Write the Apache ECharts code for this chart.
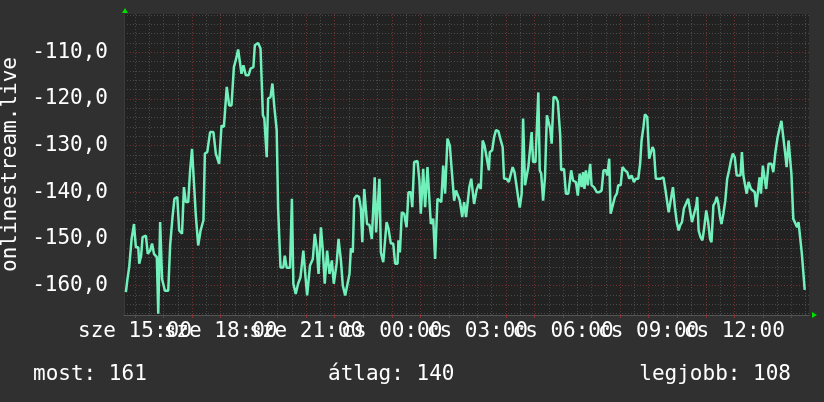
<!DOCTYPE html>
<html>
<head>
<meta charset="utf-8">
<script src="https://cdn.jsdelivr.net/npm/echarts@6/dist/echarts.min.js"></script>
<style>
  html, body { margin: 0; padding: 0; background: #303030; }
  #chart { width: 824px; height: 402px; }
</style>
</head>
<body>
<div id="chart"></div>
<script>
// ablak: szerda 14:37-tol 24 oran at (perc, szerda 00:00-tol szamolva)
const startMin = 877;
const spanMin = 1440;
const dayNames = ['sze', 'cs'];

// mintak: perc az ablak elejetol, es a mert ertek
const mins = [4,7,11,16,21,25,30,32,36,39,46,50,55,59,63,69,72,76,80,86,93,97,102,106,112,116,122,126,130,135,139,143,147,151,156,161,167,170,175,181,188,193,200,205,210,216,221,226,231,235,240,244,247,251,256,262,266,272,275,282,287,292,295,300,303,308,312,316,321,324,329,335,338,342,349,353,356,361,366,371,377,381,385,391,397,401,405,409,414,418,422,427,432,437,441,447,451,456,460,465,469,474,477,481,484,489,494,498,501,505,508,511,516,521,524,527,530,533,537,540,545,549,552,556,561,566,570,575,577,580,584,589,594,598,603,606,610,617,621,624,629,633,638,642,645,650,654,659,663,667,671,675,680,685,689,694,698,702,706,711,715,719,723,726,730,733,736,741,746,750,754,758,762,767,769,774,778,782,787,792,796,799,804,809,813,817,821,825,829,832,836,839,843,846,850,853,857,860,865,867,871,874,877,881,885,889,893,896,899,903,908,912,917,919,925,929,934,938,940,944,950,954,958,962,965,968,971,975,980,983,988,994,999,1004,1008,1013,1016,1020,1023,1027,1032,1036,1039,1044,1048,1053,1058,1062,1067,1072,1076,1081,1085,1088,1092,1095,1100,1104,1107,1111,1114,1118,1123,1128,1134,1138,1142,1145,1149,1154,1158,1162,1166,1169,1173,1177,1181,1186,1190,1194,1198,1203,1205,1208,1212,1216,1219,1224,1228,1232,1235,1239,1243,1246,1249,1253,1256,1260,1264,1268,1272,1276,1280,1284,1288,1292,1296,1299,1302,1306,1309,1313,1318,1322,1326,1329,1333,1336,1339,1343,1347,1350,1353,1355,1361,1365,1369,1374,1378,1382,1386,1390,1393,1397,1400,1403,1407,1411,1415,1418,1421,1425,1428,1431];

const vals = [
  -161.4,-158.8,-156,-150,-146.8,-151.8,-151.8,-155.3,-153.6,-149.6,
  -149.3,-153.2,-152.5,-151,-153.2,-153.9,-166,-146.4,-158.6,-161.1,
  -161.1,-151.4,-145.3,-141.4,-141,-148.2,-148.9,-138.9,-142.1,-142.1,
  -135.3,-130.7,-130.7,-145,-151.4,-148.2,-146,-131.7,-131.4,-127.1,
  -127.1,-131.7,-133.9,-125.7,-126,-117.4,-121.4,-121.4,-113.2,-111.7,
  -109.4,-109.4,-114.6,-112.8,-114.9,-114.9,-113.5,-113.2,-108.5,-108,
  -109.2,-123.5,-124.2,-132.5,-119.9,-119.6,-116.7,-121.7,-126.7,-143.5,
  -156.1,-156.1,-153.6,-156.2,-156.2,-141.4,-159.6,-161.8,-159.6,-158.2,
  -152.5,-157.5,-162.1,-155.7,-154.3,-148.9,-151.8,-157.5,-147.5,-152.5,
  -159.6,-152.5,-157.5,-154.6,-159.6,-155.3,-150,-154.6,-160,-162.1,
  -162.1,-157.5,-152,-152.9,-141.4,-140.7,-141,-143.5,-150.7,-139.3,
  -139.3,-146.8,-147,-150,-150,-136.8,-148.6,-148.6,-137.1,-152.9,
  -155,-155,-146.4,-147.8,-151,-151,-155.3,-155.3,-150.3,-152.9,
  -144.3,-144.6,-147.5,-140,-140,-143.2,-133.5,-133.3,-137.5,-144.6,
  -135,-143.2,-134.6,-134.6,-146.8,-145.7,-154.3,-141.4,-141.8,-142.1,
  -134.3,-140.3,-128.5,-130,-135.3,-141.8,-139.6,-139.6,-141.8,-145.3,
  -142.1,-145.3,-145.3,-138.9,-137.1,-137.1,-142.5,-139.6,-138.2,-139.3,
  -128.9,-130,-130,-135.3,-131.4,-131,-128.2,-126.7,-126.9,-128.9,
  -130.3,-137.1,-137.1,-137.8,-137.8,-134.6,-135.7,-138.5,-141.4,-143.3,
  -140.3,-124.2,-138.5,-138.5,-134.6,-134.6,-127.1,-133.5,-133.5,-133.9,
  -118.6,-135.3,-136,-141.8,-136.8,-123.5,-123.5,-126.4,-129.6,-119.6,
  -119.7,-120.6,-127.8,-135.3,-135,-140.3,-140.3,-140.3,-135.3,-137.5,
  -137.8,-140.7,-136,-138.9,-135.7,-139.3,-135.3,-138.5,-133.9,-138.5,
  -138.9,-140,-140,-139.6,-135.3,-135.3,-136.4,-132.8,-144.6,-144.3,
  -141,-140.3,-138.5,-138.5,-134.6,-135.3,-135.7,-137.1,-136.4,-137.8,
  -137.1,-137.1,-133.9,-128.9,-126,-123.3,-123.9,-132.8,-132.8,-130.3,
  -131,-137.1,-137.1,-137.1,-136.8,-139.3,-139.3,-144.3,-144.3,-138.9,
  -143.2,-146.4,-148.2,-147.1,-146.4,-143.5,-143.9,-141.4,-141.4,-146.4,
  -146,-142.8,-141,-148.2,-149.6,-150.3,-148.2,-143.9,-146.4,-150,
  -150.7,-142.8,-142.1,-141,-142.1,-145.3,-146.8,-144.6,-141.8,-137.1,
  -135.3,-133.2,-131.7,-132.5,-136.4,-136.4,-136.4,-131.4,-136.4,-136.8,
  -140.3,-137.8,-139.3,-139.3,-140,-143.2,-143.2,-136.8,-140.3,-134.3,
  -134.3,-139.3,-139.3,-133.9,-133.9,-135.7,-131.7,-128.2,-126.4,-124.7,
  -124.7,-131.7,-134.6,-128.9,-128.9,-136,-145.7,-146,-147.5,-146.4,
  -146.8,-153.2,-153.2,-160.9
];

// tengely feliratok (harom orankent, ket csoportban, hogy egyik se vesszen el)
const xLabelsA = [900, 1260, 1620, 1980];
const xLabelsB = [1080, 1440, 1800, 2160];
const yMajor = [-160, -150, -140, -130, -120, -110];
const yMinor = [-166,-164,-162,-158,-156,-154,-152,-148,-146,-144,-142,-138,-136,-134,-132,-128,-126,-124,-122,-118,-116,-114,-112,-108,-106,-104,-102];
const yMin = -166.3, yMax = -101.8;
const yTitle = 'onlinestream.live';
const stats = ['most: 161', 'átlag: 140', 'legjobb: 108'];

// racs: orankent fo vonal, felorankent mellek vonal
const hourTicks = [], halfTicks = [];
for (let m = 900; m < startMin + spanMin; m += 60) hourTicks.push(m);
for (let m = 930; m < startMin + spanMin; m += 60) halfTicks.push(m);

const font = '"DejaVu Sans Mono", monospace';
const majorColor = '#703232';
const minorColor = '#4a4a4a';
const gridH = 301;

const timeLabel = v => dayNames[Math.floor(v / 1440)] + ' ' +
  String(Math.round((v % 1440) / 60)).padStart(2, '0') + ':00';

const chart = echarts.init(document.getElementById('chart'));

chart.setOption({
  backgroundColor: '#303030',
  animation: false,
  grid: {
    left: 124, top: 14, width: 685, height: gridH,
    outerBoundsMode: 'none', containLabel: false,
    show: true, backgroundColor: '#222222', borderWidth: 0
  },
  xAxis: [
    {
      type: 'value',
      position: 'bottom',
      min: startMin, max: startMin + spanMin,
      axisLine: { show: true, lineStyle: { color: '#555555', width: 1 } },
      axisTick: { show: true, customValues: hourTicks, length: 3, lineStyle: { color: '#8a3535' } },
      axisLabel: {
        customValues: xLabelsA,
        hideOverlap: false, showMinLabel: true, showMaxLabel: true,
        color: '#ffffff', fontFamily: font, fontSize: 21, margin: 6,
        formatter: timeLabel
      },
      splitLine: { show: true, lineStyle: { color: majorColor, type: [1, 2] } }
    },
    {
      // masodik tengely: felorai racs + a tobbi felirat, lehuzva az also szelre
      type: 'value',
      position: 'top',
      offset: -gridH,
      min: startMin, max: startMin + spanMin,
      axisLine: { show: false },
      axisTick: { show: false, customValues: halfTicks },
      axisLabel: {
        customValues: xLabelsB, inside: true,
        hideOverlap: false, showMinLabel: true, showMaxLabel: true,
        color: '#ffffff', fontFamily: font, fontSize: 21, margin: 6,
        formatter: timeLabel
      },
      splitLine: { show: true, lineStyle: { color: minorColor, type: [1, 2] } }
    }
  ],
  yAxis: [
    {
      type: 'value',
      min: yMin, max: yMax,
      name: yTitle, nameLocation: 'middle', nameRotate: 90, nameGap: 101,
      nameTextStyle: { color: '#ffffff', fontFamily: font, fontSize: 21 },
      axisLine: { show: true, lineStyle: { color: '#3a3a3a' } },
      axisTick: { show: false, customValues: yMajor },
      axisLabel: {
        customValues: yMajor,
        color: '#ffffff', fontFamily: font, fontSize: 21, margin: 16,
        formatter: v => v.toFixed(1).replace('.', ',')
      },
      splitLine: { show: true, lineStyle: { color: majorColor, type: [1, 2] } }
    },
    {
      type: 'value',
      min: yMin, max: yMax,
      axisLine: { show: false },
      axisTick: { show: false, customValues: yMinor },
      axisLabel: { show: false },
      splitLine: { show: true, lineStyle: { color: minorColor, type: [1, 2] } }
    }
  ],
  series: [
    {
      type: 'line',
      xAxisIndex: 0, yAxisIndex: 0,
      data: mins.map((m, i) => [startMin + m, vals[i]]),
      showSymbol: false,
      lineStyle: { color: '#72f0bc', width: 2.5 },
      z: 5
    }
  ],
  graphic: [
    { type: 'polygon', shape: { points: [[122, 13], [128, 13], [125, 8]] }, style: { fill: '#00dd00' } },
    { type: 'polygon', shape: { points: [[812, 312], [812, 318], [817, 315]] }, style: { fill: '#00dd00' } },
    { type: 'text', left: 33, top: 364, style: { text: stats[0], fill: '#ffffff', font: '21px ' + font } },
    { type: 'text', left: 328, top: 364, style: { text: stats[1], fill: '#ffffff', font: '21px ' + font } },
    { type: 'text', right: 33, top: 364, style: { text: stats[2], fill: '#ffffff', font: '21px ' + font } }
  ]
});
</script>
</body>
</html>
